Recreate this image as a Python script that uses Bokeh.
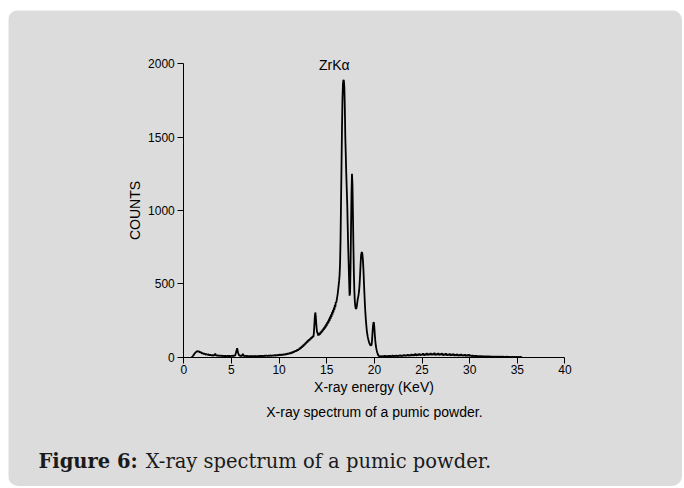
from bokeh.plotting import figure
from bokeh.models import Range1d, ColumnDataSource
from bokeh.core.properties import value
from bokeh.embed import file_html
from bokeh.resources import INLINE

# ---- data: X-ray spectrum (energy in keV, counts) ----
# segment A: channels from 0.8 keV, 0.1 keV apart
seg_a_start, seg_a_step = 0.8, 0.1
seg_a_counts = [
    0, 3, 12, 22, 30, 36, 42, 38, 40, 32, 35, 26, 28, 22, 25, 18, 21, 16, 19, 14,
    17, 12, 15, 11, 14, 24, 12, 10, 13, 9, 12, 8, 11, 7, 10, 6, 9, 7, 10, 6,
    9, 7, 10, 8, 11, 9, 14, 35, 62, 30, 14, 9, 11, 8, 22, 9, 7, 10, 6, 9,
    5, 8, 6, 9, 5, 8, 6, 9, 5, 8, 6, 10, 7, 9, 6, 10, 7, 11, 8, 12,
    8, 11, 9, 13, 9, 12, 10, 14, 11, 15, 12, 16, 13, 18, 14, 19, 15, 21, 17, 23,
    19, 26, 22, 29, 25, 33, 30, 38, 35, 44, 41, 50, 47,
]
# segment B: channels from 12.05 keV, 0.05 keV apart (peak region)
seg_b_start, seg_b_step = 12.05, 0.05
seg_b_counts = [
    56, 50, 63, 55, 68, 60, 73, 65, 79, 71, 85, 77, 91, 83, 98, 90, 105, 96, 111, 102,
    117, 108, 122, 114, 128, 120, 134, 126, 140, 132, 144, 138,
    165, 215, 275, 305, 280, 230, 190, 168,
    165, 148, 160, 150, 166, 155, 172, 162, 180, 170, 188, 178, 197, 186, 206, 195, 216, 204, 227, 214,
    238, 225, 250, 236, 263, 248, 277, 261, 291, 275, 306, 290, 322, 306, 339, 323, 357, 341, 375,
    372, 390, 410, 432, 460, 490, 520, 560, 640, 800, 1050,
    1300, 1550, 1750, 1860, 1890, 1885, 1840, 1700, 1500, 1380, 1250, 1150, 1050, 900, 760, 640, 520, 420, 440, 620,
    880, 1120, 1250, 1180, 980, 760, 570, 450, 380, 345, 332, 330, 345, 370, 395, 410, 430, 455, 500, 560,
    630, 690, 712, 716, 700, 660, 600, 520, 440, 370, 310, 260, 220, 185, 160, 140, 125, 112, 100, 92,
    85, 82, 80, 84, 110, 160, 210, 235, 238, 200, 150, 110, 80, 60, 45, 32, 22, 15, 10, 7,
    5, 6,
]
# segment C: channels from 20.7 keV, 0.1 keV apart
seg_c_start, seg_c_step = 20.7, 0.1
seg_c_counts = [
    8, 4, 9, 5, 10, 4, 8, 5, 11, 6, 9, 5, 12, 6, 10, 7, 13, 6, 11, 8,
    14, 7, 12, 9, 16, 8, 14, 10, 18, 9, 15, 11, 20, 10, 17, 12, 24, 11, 19, 13,
    25, 12, 20, 14, 26, 13, 21, 15, 27, 14, 22, 16, 28, 15, 23, 16, 29, 15, 22, 17,
    28, 14, 23, 16, 27, 13, 21, 15, 26, 12, 20, 14, 24, 11, 19, 13, 23, 10, 18, 12,
    21, 9, 17, 11, 20, 9, 16, 10, 18, 8, 15, 9, 19, 8, 13, 7, 12, 6, 11, 6,
    10, 5, 9, 5, 8, 4, 8, 4, 7, 3, 7, 3, 6, 3, 6, 2, 5, 2, 5, 2,
    4, 2, 5, 2, 4, 1, 4, 2, 4, 1, 3, 2, 4, 1, 3, 1, 3, 1, 3, 1,
    3, 1, 2, 1, 2, 1, 2, 1, 1,
]

x_ticks = [0, 5, 10, 15, 20, 25, 30, 35, 40]
y_ticks = [0, 500, 1000, 1500, 2000]
peak_label = ["ZrKα"]
peak_label_energy = [15.8]
peak_label_counts = [1990]
subtitle = ["X-ray spectrum of a pumic powder."]
caption_bold = ["Figure 6:"]
caption_rest = ["X-ray spectrum of a pumic powder."]

energy, counts = [], []
for start, step, vals in [(seg_a_start, seg_a_step, seg_a_counts),
                          (seg_b_start, seg_b_step, seg_b_counts),
                          (seg_c_start, seg_c_step, seg_c_counts)]:
    for i, v in enumerate(vals):
        energy.append(round(start + i * step, 3))
        counts.append(v)

src = ColumnDataSource(dict(energy=energy, counts=counts))

BG = "#dcdcdc"
W, H = 674, 476
# frame covers the whole panel; axes are pinned at 0 inside it
p = figure(width=W, height=H, output_backend="svg", toolbar_location=None,
           x_range=Range1d(-18.39, 52.33), y_range=Range1d(-881, 2363),
           min_border=0, min_border_left=0, min_border_right=0,
           min_border_top=0, min_border_bottom=0)
p.styles = {"margin-left": "8px", "margin-top": "10px",
            "border-radius": "10px", "overflow": "hidden"}
p.background_fill_color = BG
p.border_fill_color = BG
p.outline_line_color = None
p.grid.visible = False

p.line("energy", "counts", source=src, line_color="black", line_width=1.8)

for ax in (p.xaxis[0], p.yaxis[0]):
    ax.fixed_location = 0
    ax.axis_line_color = "black"
    ax.major_tick_line_color = "black"
    ax.minor_tick_line_color = "black"
    ax.major_tick_out = 6
    ax.major_tick_in = 0
    ax.minor_tick_out = 3
    ax.minor_tick_in = 0
    ax.major_label_text_font = "Liberation Sans"
    ax.major_label_text_font_size = "12px"
    ax.major_label_text_color = "black"
    ax.axis_label_text_font = "Liberation Sans"
    ax.axis_label_text_font_size = "14px"
    ax.axis_label_text_font_style = "normal"
    ax.axis_label_text_color = "black"

p.xaxis.ticker = x_ticks
p.yaxis.ticker = y_ticks
p.xaxis[0].ticker.num_minor_ticks = 2
p.yaxis[0].ticker.num_minor_ticks = 2
p.xaxis.bounds = (0, 40)
p.yaxis.bounds = (0, 2000)
p.xaxis.axis_label = "X-ray energy (KeV)"
p.yaxis.axis_label = "COUNTS"
p.xaxis.major_label_standoff = 2
p.xaxis.axis_label_standoff = 1
p.yaxis.major_label_standoff = 3
p.yaxis.axis_label_standoff = 2

p.text(x=peak_label_energy, y=peak_label_counts, text=peak_label,
       text_align="center", text_baseline="middle",
       text_font=value("Liberation Sans"), text_font_size="14px", text_color="black")

p.text(x=[20], y=[-370], text=subtitle, text_align="center", text_baseline="middle",
       text_font=value("Liberation Sans"), text_font_size="14px", text_color="black")
p.text(x=[-15.25], y=[-711], text=caption_bold, text_align="left", text_baseline="middle",
       text_font=value("DejaVu Serif"), text_font_style="bold",
       text_font_size="19.5px", text_color="#1a1a1a")
p.text(x=[-4.0], y=[-711], text=caption_rest, text_align="left", text_baseline="middle",
       text_font=value("DejaVu Serif"),
       text_font_size="19.5px", text_color="#1a1a1a")

open("out.html", "w").write(file_html(p, INLINE))
